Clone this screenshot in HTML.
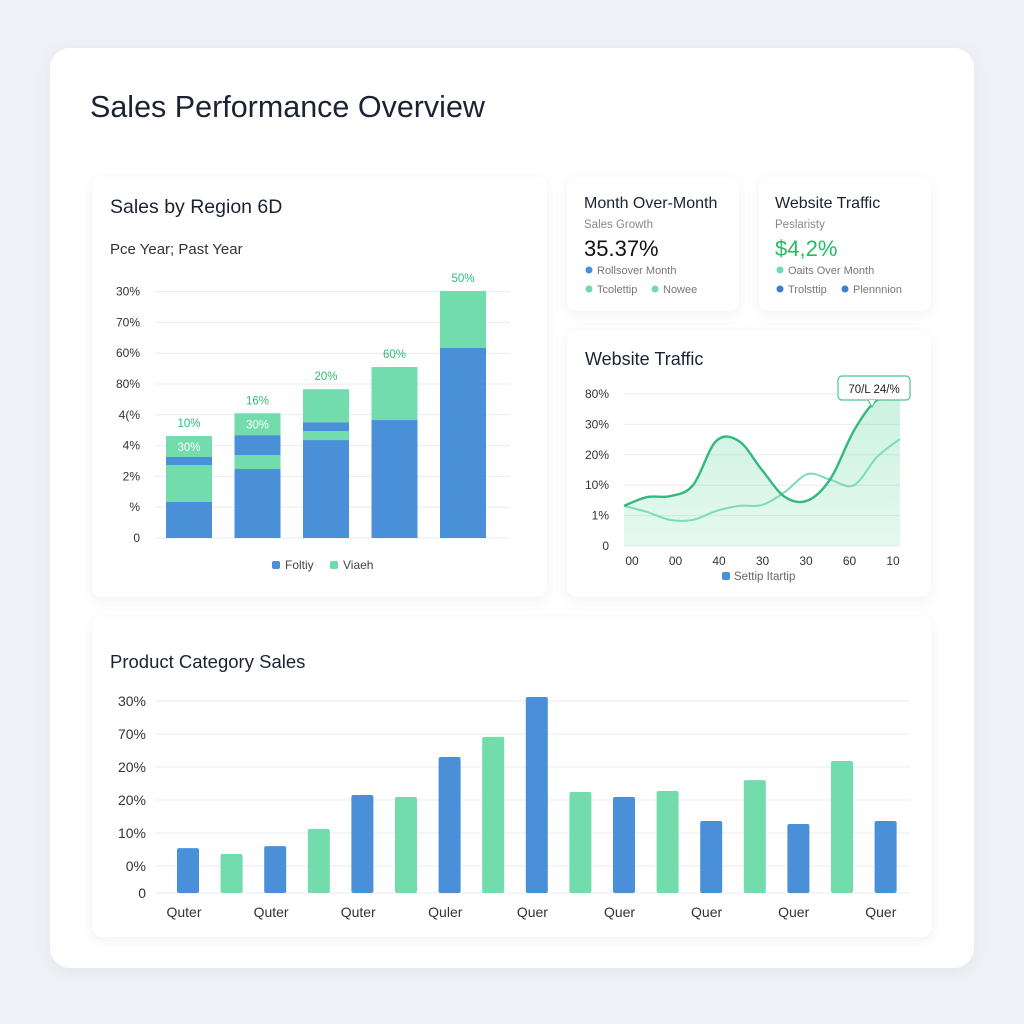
<!DOCTYPE html>
<html><head><meta charset="utf-8"><style>
html,body{margin:0;padding:0;background:#eef1f6;}
svg{display:block;font-family:"Liberation Sans",sans-serif;}
</style></head><body>
<svg id="s" width="1024" height="1024" viewBox="0 0 1024 1024" xmlns="http://www.w3.org/2000/svg">
<defs>
<filter id="sh" x="-10%" y="-10%" width="120%" height="130%"><feDropShadow dx="0" dy="3" stdDeviation="6" flood-color="#8090a8" flood-opacity="0.12"/></filter>
<linearGradient id="ag" x1="0" y1="0" x2="0" y2="1"><stop offset="0" stop-color="#6edba8" stop-opacity="0.35"/><stop offset="1" stop-color="#6edba8" stop-opacity="0.18"/></linearGradient>
</defs>
<rect x="50" y="48" width="924" height="920" rx="20" fill="#fff" filter="url(#sh)"/>
<text x="90" y="117" font-size="30.5" fill="#1a2233">Sales Performance Overview</text>

<g>
<rect x="92" y="177" width="455" height="420" rx="10" fill="#fff" filter="url(#sh)"/>
<text x="110" y="213" font-size="19.5" fill="#1a2233">Sales by Region 6D</text>
<text x="110" y="254" font-size="15" fill="#333">Pce Year; Past Year</text>
<g id="regAxis"></g><g id="regBars"></g>
<rect x="272" y="561" width="8" height="8" rx="2" fill="#4a90d9"/><text x="285" y="569" font-size="12" fill="#444">Foltiy</text>
<rect x="330" y="561" width="8" height="8" rx="2" fill="#6edba8"/><text x="343" y="569" font-size="12" fill="#444">Viaeh</text>
</g>

<g>
<rect x="567" y="178" width="172" height="133" rx="10" fill="#fff" filter="url(#sh)"/>
<text x="584" y="208" font-size="16" fill="#1a2233">Month Over-Month</text>
<text x="584" y="228" font-size="11.5" fill="#888">Sales Growth</text>
<text x="584" y="256" font-size="22" fill="#111">35.37%</text>
<circle cx="589" cy="270" r="3.5" fill="#4a90d9"/><text x="597" y="274" font-size="11" fill="#777">Rollsover Month</text>
<circle cx="589" cy="289" r="3.5" fill="#6edba8"/><text x="597" y="293" font-size="11" fill="#777">Tcolettip</text>
<circle cx="655" cy="289" r="3.5" fill="#6edba8"/><text x="663" y="293" font-size="11" fill="#777">Nowee</text>
</g>
<g>
<rect x="759" y="178" width="172" height="133" rx="10" fill="#fff" filter="url(#sh)"/>
<text x="775" y="208" font-size="16" fill="#1a2233">Website Traffic</text>
<text x="775" y="228" font-size="11.5" fill="#888">Peslaristy</text>
<text x="775" y="256" font-size="22" fill="#22bb66">$4,2%</text>
<circle cx="780" cy="270" r="3.5" fill="#6edba8"/><text x="788" y="274" font-size="11" fill="#777">Oaits Over Month</text>
<circle cx="780" cy="289" r="3.5" fill="#3b7fd0"/><text x="788" y="293" font-size="11" fill="#777">Trolsttip</text>
<circle cx="845" cy="289" r="3.5" fill="#3b7fd0"/><text x="853" y="293" font-size="11" fill="#777">Plennnion</text>
</g>

<g>
<rect x="567" y="331" width="364" height="266" rx="10" fill="#fff" filter="url(#sh)"/>
<text x="585" y="365" font-size="18" fill="#1a2233">Website Traffic</text>
<g id="trAxis"></g><g id="trLines"></g>
<g>
<rect x="838" y="376" width="72" height="24" rx="4" fill="#fff" stroke="#4cc48e" stroke-width="1.2"/>
<path d="M868 400 L872 407 L876 400" fill="#fff" stroke="#4cc48e" stroke-width="1.2"/>
<text x="874" y="393" font-size="11.5" fill="#222" text-anchor="middle">70/L 24/%</text>
</g>
<rect x="722" y="572" width="8" height="8" rx="2" fill="#4a90d9"/><text x="734" y="580" font-size="11.5" fill="#666">Settip Itartip</text>
</g>

<g>
<rect x="92" y="617" width="840" height="320" rx="10" fill="#fff" filter="url(#sh)"/>
<text x="110" y="668" font-size="18.5" fill="#1a2233">Product Category Sales</text>
<g id="catAxis"></g><g id="catBars"></g>
</g>
</svg>
<script>
// Region chart data (units of grid steps)
const regTicks = ["0","%","2%","4%","4(%","80%","60%","70%","30%"];
const regBlue1 = [1.17,2.24,3.18,3.83,6.17];
const regGreen1 = [1.2,0.45,0.29,1.72,1.85];
const regBlue2 = [0.26,0.65,0.29,0,0];
const regGreen2 = [0.68,0.71,1.07,0,0];
const regTopLabels = ["10%","16%","20%","60%","50%"];
const regInnerLabels = ["30%","30%","","",""];
// Traffic data
const trTicks = ["0","1%","10%","20%","30%","80%"];
const trXLabels = ["00","00","40","30","30","60","10"];
const trSeries1 = [1.32,1.61,1.64,2.0,3.45,3.45,2.5,1.61,1.5,2.24,3.8,4.8,4.87];
const trSeries2 = [1.32,1.12,0.86,0.86,1.15,1.32,1.35,1.78,2.37,2.17,2.0,2.93,3.52];
// Category data
const catTicks = ["0","0%","10%","20%","20%","70%","30%"];
const catValues = [1.36,1.18,1.42,1.94,2.97,2.91,4.12,4.73,5.94,3.06,2.91,3.09,2.18,3.42,2.09,4.0,2.18];
const catLabels = ["Quter","Quter","Quter","Quler","Quer","Quer","Quer","Quer","Quer"];

const NS="http://www.w3.org/2000/svg";
function mk(p,tag,a){const e=document.createElementNS(NS,tag);for(const k in a)e.setAttribute(k,a[k]);p.appendChild(e);return e;}
const BLUE="#4a90d9",GREEN="#72dcac";

// Region
(function(){
const ax=document.getElementById('regAxis'),g=document.getElementById('regBars');
const y0=538,step=30.8,yv=v=>y0-v*step;
regTicks.forEach((t,i)=>{const y=yv(i);
 const l=mk(ax,'line',{x1:155,x2:510,y1:y,y2:y,stroke:'#e8ebf0','stroke-width':1});
 
 
 const tx=mk(ax,'text',{x:140,y:y+4,'font-size':12,fill:'#333','text-anchor':'end'});tx.textContent=t;
 
 });
const bw=46,x0=166,gap=68.5;
regBlue1.forEach((b,i)=>{const x=x0+i*gap;let acc=0;
 const segs=[[b,BLUE],[regGreen1[i],GREEN],[regBlue2[i],BLUE],[regGreen2[i],GREEN]];
 segs.forEach(([v,c],k)=>{if(v<=0)return;const r=mk(g,'rect',{x:x,y:yv(acc+v),width:bw,height:v*step,fill:c});
  
  acc+=v;});
 const top=mk(g,'text',{x:x+bw/2,y:yv(acc)-9,'font-size':11.5,fill:'#2dbb74','text-anchor':'middle'});top.textContent=regTopLabels[i];
 
 
 if(regInnerLabels[i]){const it=mk(g,'text',{x:x+bw/2,y:yv(acc)+15,'font-size':11.5,fill:'#fff','text-anchor':'middle'});it.textContent=regInnerLabels[i];
  
  }
});
})();

// Traffic
(function(){
const ax=document.getElementById('trAxis'),g=document.getElementById('trLines');
const y0=546,step=30.4,yv=v=>y0-v*step,xs=i=>624+i*23;
trTicks.forEach((t,i)=>{const y=yv(i);
 const l=mk(ax,'line',{x1:624,x2:900,y1:y,y2:y,stroke:'#e8ebf0','stroke-width':1});
 
 
 const tx=mk(ax,'text',{x:609,y:y+4,'font-size':12,fill:'#333','text-anchor':'end'});tx.textContent=t;
 
 });
trXLabels.forEach((t,i)=>{const tx=mk(ax,'text',{x:632+i*43.5,y:565,'font-size':12,fill:'#333','text-anchor':'middle'});tx.textContent=t;
 
 });
function path(arr){const p=arr.map((v,i)=>[xs(i),yv(v)]);let d=`M${p[0][0]},${p[0][1]}`;
 for(let i=0;i<p.length-1;i++){const a=p[Math.max(0,i-1)],b=p[i],c=p[i+1],e=p[Math.min(p.length-1,i+2)];
  d+=` C${b[0]+(c[0]-a[0])/6},${b[1]+(c[1]-a[1])/6} ${c[0]-(e[0]-b[0])/6},${c[1]-(e[1]-b[1])/6} ${c[0]},${c[1]}`;}
 return d;}
const d1=path(trSeries1);
const area=mk(g,'path',{d:d1+` L${xs(trSeries1.length-1)},${y0} L${xs(0)},${y0} Z`,fill:'url(#ag)'});


const l2=mk(g,'path',{d:path(trSeries2),fill:'none',stroke:'#7fdcb0','stroke-width':2});


const l1=mk(g,'path',{d:d1,fill:'none',stroke:'#34b87e','stroke-width':2.4});


})();

// Category
(function(){
const ax=document.getElementById('catAxis'),g=document.getElementById('catBars');
const y0=893,yv=v=>y0-v*33;
const tickY=[893,866,833,800,767,734,701];
catTicks.forEach((t,i)=>{const y=tickY[i];
 const l=mk(ax,'line',{x1:155,x2:910,y1:y,y2:y,stroke:'#e8ebf0','stroke-width':1});
 
 
 const tx=mk(ax,'text',{x:146,y:y+5,'font-size':14,fill:'#333','text-anchor':'end'});tx.textContent=t;
 
 });
catLabels.forEach((t,i)=>{const tx=mk(ax,'text',{x:184+i*87.1,y:917,'font-size':14,fill:'#333','text-anchor':'middle'});tx.textContent=t;
 
 });
catValues.forEach((v,i)=>{const x=177+i*43.6;
 const r=mk(g,'rect',{x:x,y:yv(v),width:22,height:v*33,rx:2,fill:i%2?GREEN:BLUE});
 
 });
})();
</script>
</body></html>
